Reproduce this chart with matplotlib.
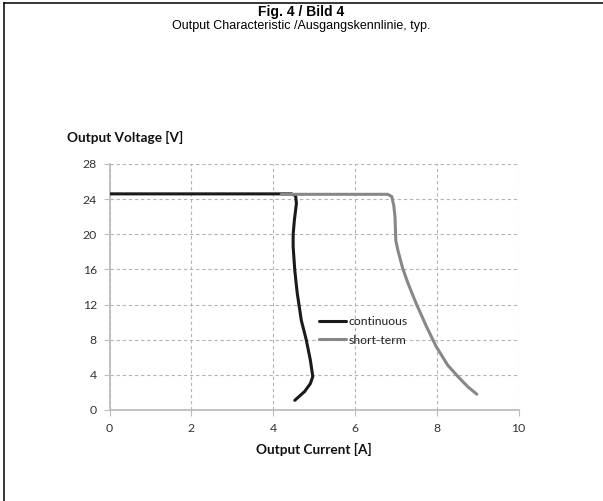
import matplotlib
matplotlib.use("Agg")
import matplotlib.pyplot as plt
from matplotlib.lines import Line2D

# data
cont_x = [0, 4.45, 4.55, 4.57, 4.52, 4.49, 4.49, 4.53, 4.59, 4.69, 4.81, 4.91, 4.97, 4.91, 4.77, 4.53]
cont_y = [24.6, 24.6, 24.4, 23.5, 21.6, 20.0, 18.6, 15.9, 13.3, 10.2, 8.0, 5.7, 3.8, 3.0, 2.1, 1.1]
short_x = [4.2, 6.8, 6.9, 6.95, 6.98, 7.0, 7.05, 7.17, 7.30, 7.50, 7.75, 7.99, 8.27, 8.52, 8.76, 8.98]
short_y = [24.55, 24.55, 24.3, 23.3, 22.0, 19.3, 18.2, 16.1, 14.4, 12.1, 9.5, 7.2, 5.1, 3.8, 2.65, 1.8]
x_ticks = [0, 2, 4, 6, 8, 10]
y_ticks = [0, 4, 8, 12, 16, 20, 24, 28]

W, H = 603, 501
fig = plt.figure(figsize=(W / 100, H / 100), dpi=100)
fig.patch.set_facecolor("white")

ax = fig.add_axes([109.5 / W, 1 - 410 / H, (518.5 - 109.5) / W, (410 - 164) / H])
ax.plot(cont_x, cont_y, color="#1a1a1a", lw=2.2, label="continuous", solid_capstyle="round", zorder=3)
ax.plot(short_x, short_y, color="#878787", lw=2.2, label="short-term", solid_capstyle="round", zorder=3)

ax.set_xlim(0, 10)
ax.set_ylim(0, 28)
ax.set_xticks(x_ticks)
ax.set_yticks(y_ticks)
ax.set_xticklabels([str(v) for v in x_ticks])
ax.set_yticklabels([str(v) for v in y_ticks])
ax.grid(True, ls=(0, (3, 2.5)), color="#b4b4b4", lw=0.8)
ax.set_axisbelow(True)
for s in ["top", "right"]:
    ax.spines[s].set_visible(False)
for s in ["left", "bottom"]:
    ax.spines[s].set_color("#bdbdbd")
    ax.spines[s].set_linewidth(1.3)
ax.tick_params(axis="both", direction="out", length=4, width=0.8, color="#bdbdbd",
               labelsize=8.8, labelcolor="#333333", pad=5)
for lab in ax.get_xticklabels() + ax.get_yticklabels():
    lab.set_family("Lato")

ax.set_xlabel("Output Current [A]", family="Lato", fontweight="bold", fontsize=9.8,
              color="#111111", labelpad=7)

leg = ax.legend(loc="center left", bbox_to_anchor=(0.512, 0.322), frameon=False,
                prop={"family": "Lato", "size": 8.8}, handlelength=2.2,
                handletextpad=0.2, labelspacing=0.65, borderaxespad=0, borderpad=0)
for t in leg.get_texts():
    t.set_color("#222222")

fig.text(67 / W, 1 - 137 / H, "Output Voltage [V]", family="Lato", fontweight="bold",
         fontsize=9.8, color="#111111", ha="left", va="center")
fig.text(301 / W, 1 - 16 / H, "Fig. 4 / Bild 4", family="Liberation Sans",
         fontweight="bold", fontsize=10, ha="center", va="baseline")
fig.text(301 / W, 1 - 29 / H, "Output Characteristic /Ausgangskennlinie, typ.",
         family="Liberation Sans", fontsize=9, ha="center", va="baseline")

# page frame (top and left only)
fig.add_artist(Line2D([4 / W, 1], [1 - 3 / H, 1 - 3 / H], color="black", lw=1.1,
                      transform=fig.transFigure))
fig.add_artist(Line2D([4 / W, 4 / W], [0, 1 - 3 / H], color="black", lw=1.1,
                      transform=fig.transFigure))

fig.savefig("out.png", dpi=100)
